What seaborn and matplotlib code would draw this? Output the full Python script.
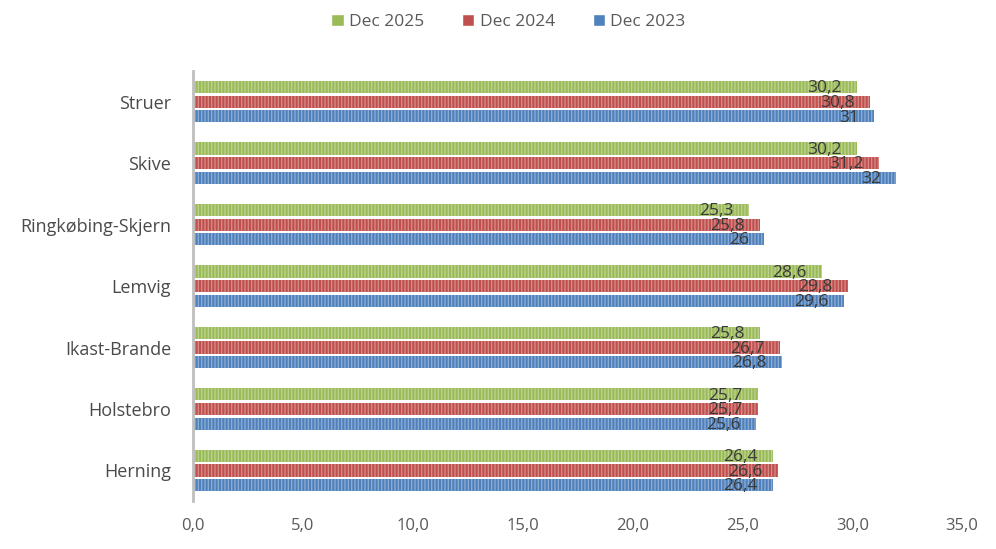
import matplotlib
matplotlib.use("Agg")
import matplotlib.pyplot as plt
import seaborn as sns
import pandas as pd
import matplotlib.colors as mcolors

categories = ["Struer", "Skive", "Ringkøbing-Skjern", "Lemvig", "Ikast-Brande", "Holstebro", "Herning"]
series_names = ["Dec 2025", "Dec 2024", "Dec 2023"]
dec_2025 = [30.2, 30.2, 25.3, 28.6, 25.8, 25.7, 26.4]
dec_2024 = [30.8, 31.2, 25.8, 29.8, 26.7, 25.7, 26.6]
dec_2023 = [31.0, 32.0, 26.0, 29.6, 26.8, 25.6, 26.4]
label_text_2025 = ["30,2", "30,2", "25,3", "28,6", "25,8", "25,7", "26,4"]
label_text_2024 = ["30,8", "31,2", "25,8", "29,8", "26,7", "25,7", "26,6"]
label_text_2023 = ["31", "32", "26", "29,6", "26,8", "25,6", "26,4"]
x_ticks = [0, 5, 10, 15, 20, 25, 30, 35]
x_tick_labels = ["0,0", "5,0", "10,0", "15,0", "20,0", "25,0", "30,0", "35,0"]

colors = ["#9bbb59", "#c0504d", "#4f81bd"]

sns.set_theme(style="white")
plt.rcParams["font.family"] = ["Open Sans", "DejaVu Sans"]
plt.rcParams["hatch.linewidth"] = 0.9

rows = []
for name, vals in zip(series_names, [dec_2025, dec_2024, dec_2023]):
    for c, v in zip(categories, vals):
        rows.append({"Kommune": c, "Serie": name, "Værdi": v})
df = pd.DataFrame(rows)

fig = plt.figure(figsize=(9.96, 5.49), dpi=100)
ax = fig.add_axes([0.194, 0.087, 0.772, 0.784])

sns.barplot(data=df, y="Kommune", x="Værdi", hue="Serie", order=categories,
            hue_order=series_names, palette=colors, orient="h",
            width=0.71, gap=0.17, ax=ax, legend=True, saturation=1)

def lighten(c, f):
    r, g, b = mcolors.to_rgb(c)
    return (r + (1 - r) * f, g + (1 - g) * f, b + (1 - b) * f)

labels_all = [label_text_2025, label_text_2024, label_text_2023]
for i, cont in enumerate(ax.containers):
    for bar in cont:
        bar.set_edgecolor(lighten(colors[i], 0.35))
        bar.set_linewidth(0)
        bar.set_hatch("|||||")
    for bar, txt in zip(cont, labels_all[i]):
        w = bar.get_width()
        yc = bar.get_y() + bar.get_height() / 2
        ax.annotate(txt, (w, yc), xytext=(-11, -1), textcoords="offset points",
                    ha="right", va="center", fontsize=12.5, color="#3a3a3a")

ax.set_xlim(0, 35)
ax.set_ylim(6.5, -0.5)
ax.set_xticks(x_ticks)
ax.set_xticklabels(x_tick_labels, fontsize=12, color="#595959")
ax.tick_params(axis="y", labelsize=13, labelcolor="#4a4a4a", length=0, pad=16)
ax.tick_params(axis="x", length=0, pad=12)
ax.set_xlabel("")
ax.set_ylabel("")
for s in ["top", "right", "bottom"]:
    ax.spines[s].set_visible(False)
ax.spines["left"].set_color("#bfbfbf")
ax.spines["left"].set_linewidth(2)

leg = ax.legend(loc="center", bbox_to_anchor=(0.41, 1.114), ncol=3, frameon=False,
                fontsize=12.5, handlelength=0.7, handleheight=0.7, handletextpad=0.3,
                columnspacing=2.2)
for t in leg.get_texts():
    t.set_color("#595959")

fig.savefig("out.png", dpi=100, facecolor="white")
